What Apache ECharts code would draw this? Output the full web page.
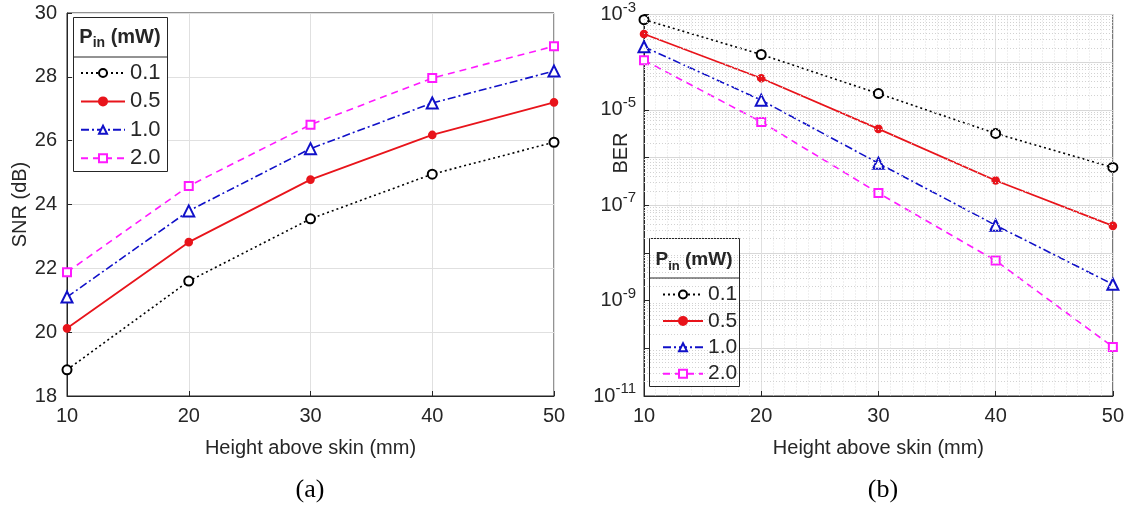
<!DOCTYPE html>
<html>
<head>
<meta charset="utf-8">
<script src="https://cdn.jsdelivr.net/npm/echarts@6/dist/echarts.min.js"></script>
<style>
  html, body { margin: 0; padding: 0; background: #fff; }
  #chart { width: 1127px; height: 506px; }
</style>
</head>
<body>
<div id="chart"></div>
<script>
// data
const heights = [10, 20, 30, 40, 50];
const powers = ['0.1', '0.5', '1.0', '2.0'];

const snr01 = [18.82, 21.6, 23.55, 24.95, 25.95];
const snr05 = [20.12, 22.82, 24.78, 26.18, 27.2];
const snr10 = [21.1, 23.8, 25.75, 27.18, 28.18];
const snr20 = [21.88, 24.58, 26.5, 27.96, 28.96];

const ber01 = [7.8e-4, 1.45e-4, 2.2e-5, 3.2e-6, 6.2e-7];
const ber05 = [3.9e-4, 4.6e-5, 4.0e-6, 3.3e-7, 3.7e-8];
const ber10 = [2.1e-4, 1.6e-5, 7.6e-7, 3.8e-8, 2.2e-9];
const ber20 = [1.1e-4, 5.6e-6, 1.8e-7, 6.9e-9, 1.07e-10];

const snrTicks = [18, 20, 22, 24, 26, 28, 30];
const berExps = [-11, -9, -7, -5, -3];

const FONT = '"Liberation Sans", Arial, sans-serif';
const TXT = '#262626';

// line looks per power level
const looks = [
  { color: '#000000', type: [2, 3], symbol: 'emptyCircle', size: 9, width: 1.6 },
  { color: '#e8141b', type: 'solid', symbol: 'circle', size: 7, width: 1.8 },
  { color: '#1010c8', type: [8, 3, 2, 3], symbol: 'emptyTriangle', size: 11, width: 1.6 },
  { color: '#ff1aff', type: [7, 5], symbol: 'emptyRect', size: 8, width: 1.6 }
];

function pairs(ys) {
  return heights.map((h, i) => [h, ys[i]]);
}

function makeSeries(name, ys, k, axis) {
  const lk = looks[k];
  return {
    name: name,
    type: 'line',
    xAxisIndex: axis,
    yAxisIndex: axis,
    data: pairs(ys),
    symbol: lk.symbol,
    symbolSize: lk.size,
    showAllSymbol: true,
    color: lk.color,
    itemStyle: { color: lk.color, borderColor: lk.color, borderWidth: 1.6 },
    lineStyle: { color: lk.color, width: lk.width, type: lk.type },
    emphasis: { disabled: true },
    z: 3
  };
}

// minor grid for the log panel (2..9 x each decade), drawn edge to edge
const minorGrid = [];
for (let e = -11; e < -3; e++) {
  for (let m = 2; m <= 9; m++) {
    const v = m * Math.pow(10, e);
    minorGrid.push([{ coord: [10, v] }, { coord: [50, v] }]);
  }
}

function xAxisFor(idx, minor) {
  return {
    gridIndex: idx,
    type: 'value',
    min: 10,
    max: 50,
    interval: 10,
    name: 'Height above skin (mm)',
    nameLocation: 'middle',
    nameGap: 42,
    nameTextStyle: { fontFamily: FONT, fontSize: 20, color: TXT },
    axisLine: { lineStyle: { color: TXT } },
    axisTick: { inside: true, length: 5, lineStyle: { color: TXT } },
    axisLabel: { fontFamily: FONT, fontSize: 20, color: TXT, margin: 10 },
    splitLine: { show: true, lineStyle: { color: '#e0e0e0' } },
    minorTick: { show: false, splitNumber: 10 },
    minorSplitLine: { show: minor, lineStyle: { color: '#dedede', type: [1, 2] } }
  };
}

const chart = echarts.init(document.getElementById('chart'));

chart.setOption({
  backgroundColor: '#ffffff',
  animation: false,
  grid: [
    { left: 67, top: 13, width: 487, height: 383, show: true, borderColor: TXT, borderWidth: 1 },
    { left: 644, top: 13, width: 477, height: 383, show: true, borderColor: TXT, borderWidth: 1 }
  ],
  xAxis: [xAxisFor(0, false), xAxisFor(1, true)],
  yAxis: [
    {
      gridIndex: 0,
      type: 'value',
      min: snrTicks[0],
      max: snrTicks[snrTicks.length - 1],
      interval: 2,
      name: 'SNR (dB)',
      nameLocation: 'middle',
      nameGap: 34,
      nameTextStyle: { fontFamily: FONT, fontSize: 20, color: TXT },
      axisLine: { lineStyle: { color: TXT } },
      axisTick: { inside: true, length: 5, lineStyle: { color: TXT } },
      axisLabel: { fontFamily: FONT, fontSize: 20, color: TXT, margin: 10 },
      splitLine: { show: true, lineStyle: { color: '#e0e0e0' } }
    },
    {
      gridIndex: 1,
      type: 'log',
      logBase: 10,
      min: 1e-11,
      max: 1e-3,
      interval: 1,
      axisLine: { lineStyle: { color: TXT } },
      axisTick: { inside: true, length: 5, lineStyle: { color: TXT } },
      axisLabel: {
        margin: 8,
        color: TXT,
        formatter: function (v) {
          const e = Math.round(Math.log10(v));
          if (berExps.indexOf(e) < 0) return '';
          return '{b|10}{s|' + e + '}';
        },
        rich: {
          b: { fontFamily: FONT, fontSize: 20, color: TXT },
          s: { fontFamily: FONT, fontSize: 15, color: TXT, padding: [0, 0, 14, 0] }
        }
      },
      splitLine: { show: true, lineStyle: { color: '#d8d8d8' } }
    }
  ],
  legend: [
    {
      data: powers,
      orient: 'vertical',
      left: 80,
      top: 62,
      padding: 0,
      itemWidth: 44,
      itemHeight: 10,
      itemGap: 6.4,
      textStyle: { fontFamily: FONT, fontSize: 22, color: TXT },
      z: 10,
      selectedMode: false
    },
    {
      data: powers,
      orient: 'vertical',
      left: 662,
      top: 284,
      padding: 0,
      itemWidth: 40,
      itemHeight: 10,
      itemGap: 5.4,
      textStyle: { fontFamily: FONT, fontSize: 21, color: TXT },
      z: 10,
      selectedMode: false
    }
  ],
  series: [
    makeSeries(powers[0], snr01, 0, 0),
    makeSeries(powers[1], snr05, 1, 0),
    makeSeries(powers[2], snr10, 2, 0),
    makeSeries(powers[3], snr20, 3, 0),
    makeSeries(powers[0], ber01, 0, 1),
    makeSeries(powers[1], ber05, 1, 1),
    makeSeries(powers[2], ber10, 2, 1),
    makeSeries(powers[3], ber20, 3, 1),
    {
      name: 'minor-grid',
      type: 'line',
      xAxisIndex: 1,
      yAxisIndex: 1,
      data: [[heights[0], ber01[0]]],
      showSymbol: false,
      lineStyle: { width: 0 },
      silent: true,
      markLine: {
        silent: true,
        symbol: ['none', 'none'],
        animation: false,
        label: { show: false },
        lineStyle: { color: '#d2d2d2', type: [1, 2], width: 1 },
        emphasis: { disabled: true },
        data: minorGrid
      },
      z: 1
    }
  ],
  graphic: [
    // left legend frame
    { type: 'rect', left: 73, top: 17, shape: { width: 94, height: 154 },
      style: { fill: '#fff', stroke: TXT, lineWidth: 1 }, z: 5 },
    { type: 'line', shape: { x1: 73, y1: 57, x2: 167, y2: 57 },
      style: { stroke: TXT, lineWidth: 1 }, z: 6 },
    { type: 'text', x: 120, y: 37, z: 6,
      style: { text: '{b|P}{s|in}{b| (mW)}', align: 'center', verticalAlign: 'middle',
        rich: {
          b: { fontFamily: FONT, fontSize: 20, fontWeight: 'bold', fill: TXT },
          s: { fontFamily: FONT, fontSize: 14, fontWeight: 'bold', fill: TXT, padding: [12, 0, 0, 0] }
        } } },
    // right legend frame
    { type: 'rect', left: 649, top: 238, shape: { width: 90, height: 148 },
      style: { fill: '#fff', stroke: TXT, lineWidth: 1 }, z: 5 },
    { type: 'line', shape: { x1: 649, y1: 278, x2: 739, y2: 278 },
      style: { stroke: TXT, lineWidth: 1 }, z: 6 },
    { type: 'text', x: 694, y: 260, z: 6,
      style: { text: '{b|P}{s|in}{b| (mW)}', align: 'center', verticalAlign: 'middle',
        rich: {
          b: { fontFamily: FONT, fontSize: 19, fontWeight: 'bold', fill: TXT },
          s: { fontFamily: FONT, fontSize: 13, fontWeight: 'bold', fill: TXT, padding: [12, 0, 0, 0] }
        } } },
    // BER axis name
    { type: 'text', x: 621, y: 153, rotation: Math.PI / 2, z: 6,
      style: { text: 'BER', fontFamily: FONT, fontSize: 20, fill: TXT, align: 'center', verticalAlign: 'middle' } },
    // captions
    { type: 'text', x: 310, y: 490,
      style: { text: '(a)', fontFamily: '"Liberation Serif", "Times New Roman", serif', fontSize: 26, fill: '#000', align: 'center', verticalAlign: 'middle' } },
    { type: 'text', x: 883, y: 490,
      style: { text: '(b)', fontFamily: '"Liberation Serif", "Times New Roman", serif', fontSize: 26, fill: '#000', align: 'center', verticalAlign: 'middle' } }
  ]
});
</script>
</body>
</html>
